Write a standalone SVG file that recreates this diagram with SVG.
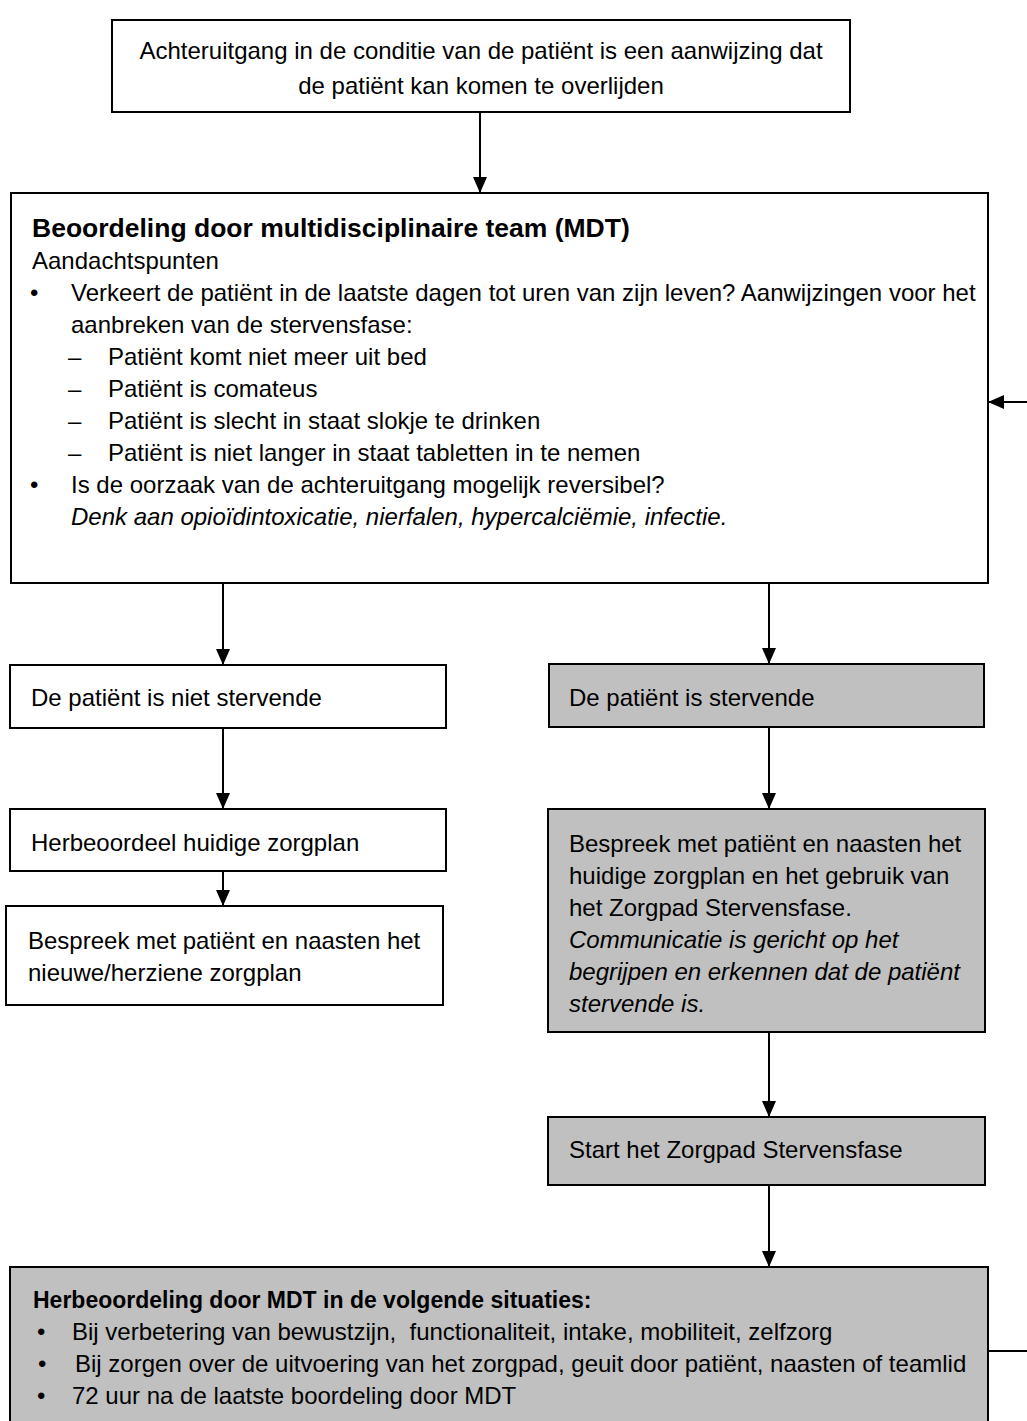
<svg xmlns="http://www.w3.org/2000/svg" width="1027" height="1421" viewBox="0 0 1027 1421">
<defs>
<marker id="ah" markerUnits="userSpaceOnUse" markerWidth="16" markerHeight="14" refX="16" refY="7" orient="auto">
<path d="M0,0 L16,7 L0,14 Z" fill="#000"/>
</marker>
<style>
.box{fill:#fff;stroke:#000;stroke-width:2}
.gbox{fill:#c0c0c0;stroke:#000;stroke-width:2}
.t{font-family:"Liberation Sans",Arial,sans-serif;font-size:24px;fill:#000}
.b{font-weight:bold}
.i{font-style:italic}
.c{stroke:#000;stroke-width:2;fill:none}
</style>
</defs>
<rect width="1027" height="1421" fill="#fff"/>
<g id="connectors">
<line class="c" x1="480" y1="112" x2="480" y2="193" marker-end="url(#ah)"/>
<line class="c" x1="1027" y1="402" x2="988" y2="402" marker-end="url(#ah)"/>
<line class="c" x1="223" y1="583" x2="223" y2="665" marker-end="url(#ah)"/>
<line class="c" x1="769" y1="583" x2="769" y2="664" marker-end="url(#ah)"/>
<line class="c" x1="223" y1="728" x2="223" y2="809" marker-end="url(#ah)"/>
<line class="c" x1="223" y1="871" x2="223" y2="906" marker-end="url(#ah)"/>
<line class="c" x1="769" y1="727" x2="769" y2="809" marker-end="url(#ah)"/>
<line class="c" x1="769" y1="1032" x2="769" y2="1117" marker-end="url(#ah)"/>
<line class="c" x1="769" y1="1185" x2="769" y2="1267" marker-end="url(#ah)"/>
<line class="c" x1="988" y1="1351" x2="1027" y2="1351"/>
</g>
<g id="n1">
<rect class="box" x="112" y="20" width="738" height="92"/>
<text class="t" x="481" y="58.5" text-anchor="middle">Achteruitgang in de conditie van de patiënt is een aanwijzing dat</text>
<text class="t" x="481" y="93.5" text-anchor="middle">de patiënt kan komen te overlijden</text>
</g>
<g id="n2">
<rect class="box" x="11" y="193" width="977" height="390"/>
<text class="t b" x="32" y="236.5" style="font-size:26.5px">Beoordeling door multidisciplinaire team (MDT)</text>
<text class="t" x="32" y="268.5">Aandachtspunten</text>
<text class="t" x="30" y="300.5">•</text><text class="t" x="71" y="300.5">Verkeert de patiënt in de laatste dagen tot uren van zijn leven? Aanwijzingen voor het</text>
<text class="t" x="71" y="332.5">aanbreken van de stervensfase:</text>
<text class="t" x="68" y="364.5">–</text><text class="t" x="108" y="364.5">Patiënt komt niet meer uit bed</text>
<text class="t" x="68" y="396.5">–</text><text class="t" x="108" y="396.5">Patiënt is comateus</text>
<text class="t" x="68" y="428.5">–</text><text class="t" x="108" y="428.5">Patiënt is slecht in staat slokje te drinken</text>
<text class="t" x="68" y="460.5">–</text><text class="t" x="108" y="460.5">Patiënt is niet langer in staat tabletten in te nemen</text>
<text class="t" x="30" y="492.5">•</text><text class="t" x="71" y="492.5">Is de oorzaak van de achteruitgang mogelijk reversibel?</text>
<text class="t i" x="71" y="524.5">Denk aan opioïdintoxicatie, nierfalen, hypercalciëmie, infectie.</text>
</g>
<g id="n3">
<rect class="box" x="10" y="665" width="436" height="63"/>
<text class="t" x="31" y="706">De patiënt is niet stervende</text>
</g>
<g id="n4">
<rect class="gbox" x="549" y="664" width="435" height="63"/>
<text class="t" x="569" y="706">De patiënt is stervende</text>
</g>
<g id="n5">
<rect class="box" x="10" y="809" width="436" height="62"/>
<text class="t" x="31" y="851">Herbeoordeel huidige zorgplan</text>
</g>
<g id="n6">
<rect class="box" x="6" y="906" width="437" height="99"/>
<text class="t" x="28" y="948.5">Bespreek met patiënt en naasten het</text>
<text class="t" x="28" y="980.5">nieuwe/herziene zorgplan</text>
</g>
<g id="n7">
<rect class="gbox" x="548" y="809" width="437" height="223"/>
<text class="t" x="569" y="851.5">Bespreek met patiënt en naasten het</text>
<text class="t" x="569" y="883.5">huidige zorgplan en het gebruik van</text>
<text class="t" x="569" y="915.5">het Zorgpad Stervensfase.</text>
<text class="t i" x="569" y="947.5">Communicatie is gericht op het</text>
<text class="t i" x="569" y="979.5">begrijpen en erkennen dat de patiënt</text>
<text class="t i" x="569" y="1011.5">stervende is.</text>
</g>
<g id="n8">
<rect class="gbox" x="548" y="1117" width="437" height="68"/>
<text class="t" x="569" y="1157.5">Start het Zorgpad Stervensfase</text>
</g>
<g id="n9">
<rect class="gbox" x="10" y="1267" width="978" height="170"/>
<text class="t b" x="33" y="1308" style="font-size:23px">Herbeoordeling door MDT in de volgende situaties:</text>
<text class="t" x="37" y="1340">•</text><text class="t" x="72" y="1340" xml:space="preserve">Bij verbetering van bewustzijn,  functionaliteit, intake, mobiliteit, zelfzorg</text>
<text class="t" x="38" y="1372">•</text><text class="t" x="75" y="1372">Bij zorgen over de uitvoering van het zorgpad, geuit door patiënt, naasten of teamlid</text>
<text class="t" x="37" y="1404">•</text><text class="t" x="72" y="1404">72 uur na de laatste boordeling door MDT</text>
</g>
</svg>
